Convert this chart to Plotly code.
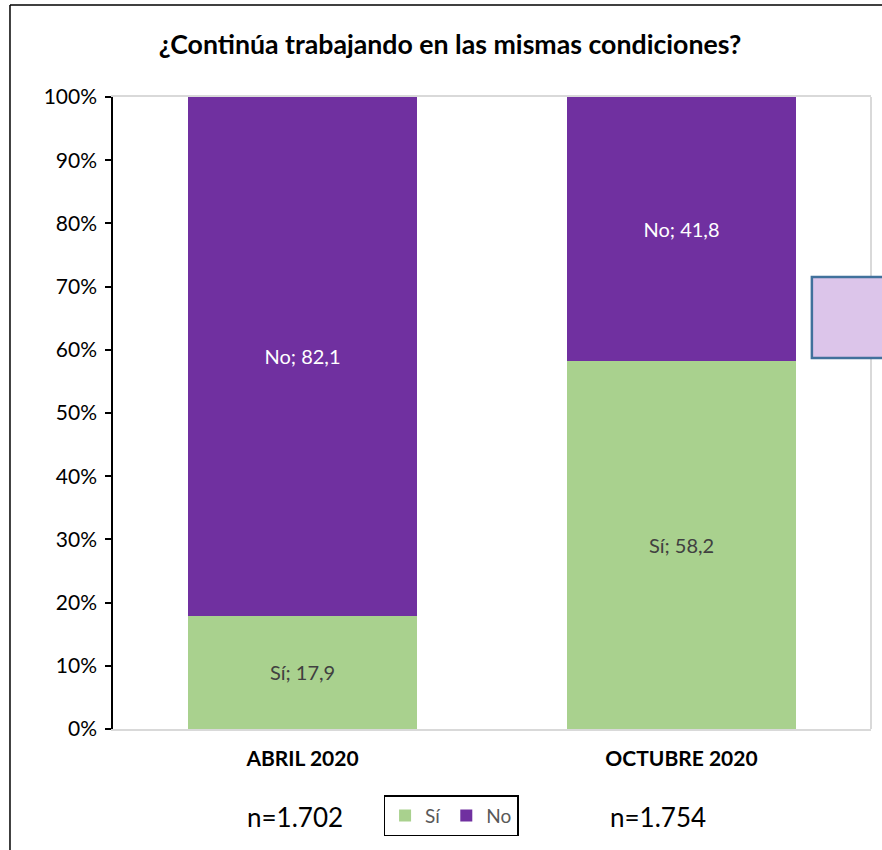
import plotly.graph_objects as go

categories = ["ABRIL 2020", "OCTUBRE 2020"]
si_values = [17.9, 58.2]
no_values = [82.1, 41.8]
n_labels = ["n=1.702", "n=1.754"]
y_ticks = [0, 10, 20, 30, 40, 50, 60, 70, 80, 90, 100]
y_tick_labels = [f"{v}%" for v in y_ticks]
title_text = "¿Continúa trabajando en las mismas condiciones?"

FONT = "Lato, Carlito, Calibri, sans-serif"

fig = go.Figure()
fig.add_trace(go.Bar(
    x=categories, y=si_values, name="Sí",
    marker=dict(color="#A9D18E", line=dict(width=0)),
    text=[f"Sí; {v:.1f}".replace(".", ",") for v in si_values],
    textposition="inside", insidetextanchor="middle",
    textfont=dict(family=FONT, size=20, color="#404040"),
    hoverinfo="skip",
))
fig.add_trace(go.Bar(
    x=categories, y=no_values, name="No",
    marker=dict(color="#7030A0", line=dict(width=0)),
    text=[f"No; {v:.1f}".replace(".", ",") for v in no_values],
    textposition="inside", insidetextanchor="middle",
    textfont=dict(family=FONT, size=20, color="white"),
    hoverinfo="skip",
))

fig.update_layout(
    width=882, height=850,
    barmode="stack", bargap=0.396,
    margin=dict(l=113, r=11, t=97, b=121),
    paper_bgcolor="white", plot_bgcolor="white",
    font=dict(family=FONT, color="black"),
    title=dict(text="<b>" + title_text + "</b>", x=450 / 882, xanchor="center",
               y=1 - 45 / 850, yanchor="middle",
               font=dict(family=FONT, size=26.7, color="black")),
    uniformtext=dict(mode=False),
    showlegend=True,
    legend=dict(orientation="h", x=0.446, xanchor="center", y=-0.137, yanchor="middle",
                bordercolor="black", borderwidth=1.5, bgcolor="white",
                font=dict(family=FONT, size=19, color="#595959"),
                itemwidth=30, tracegroupgap=0, traceorder="normal"),
)
fig.update_xaxes(
    tickvals=categories, ticktext=[f"<b>{c}</b>" for c in categories],
    tickfont=dict(family=FONT, size=21, color="black"),
    showline=True, linecolor="#D9D9D9", linewidth=2, mirror=True,
    showgrid=False, ticks="", ticklabelstandoff=10,
)
fig.update_yaxes(
    range=[0, 100], tickvals=y_ticks, ticktext=y_tick_labels,
    tickfont=dict(family=FONT, size=21, color="black"),
    showline=True, linecolor="black", linewidth=1.5,
    ticks="outside", ticklen=6, tickcolor="black", tickwidth=1.5,
    showgrid=False, zeroline=False, ticklabelstandoff=4,
)

# right plot border (light gray)
fig.add_shape(type="line", xref="paper", yref="paper", x0=1, x1=1, y0=0, y1=1,
              line=dict(color="#D9D9D9", width=2))
# outer chart border (left and top)
fig.add_shape(type="line", xref="paper", yref="paper", x0=-0.1359, x1=-0.1359,
              y0=-0.2, y1=1.1456, line=dict(color="black", width=1.5))
fig.add_shape(type="line", xref="paper", yref="paper", x0=-0.1359, x1=1.05,
              y0=1.1456, y1=1.1456, line=dict(color="black", width=1.5))
# decorative box on right
fig.add_shape(type="rect", xref="paper", yref="paper", x0=0.922, x1=1.03,
              y0=0.587, y1=0.715, fillcolor="#DCC5EA",
              line=dict(color="#41719C", width=2.5))

for nl, xp in zip(n_labels, [0.240, 0.719]):
    fig.add_annotation(text=nl, xref="paper", yref="paper", x=xp, y=-0.139,
                       showarrow=False, xanchor="center", yanchor="middle",
                       font=dict(family=FONT, size=26, color="black"))

fig.write_html("out.html", config={"displayModeBar": False},
               post_script="document.body.style.margin='0';document.body.style.overflow='hidden';")
